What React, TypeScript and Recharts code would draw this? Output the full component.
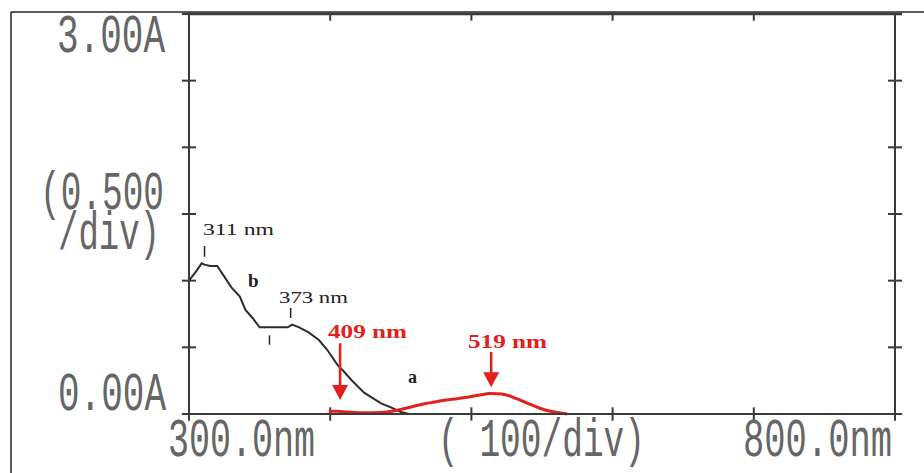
import React from "react"
import { LineChart, Line, XAxis, YAxis, ReferenceLine } from "recharts"

// spectrum b (black) and a (red), wavelength in nm, absorbance in A
const bWave = [300, 305, 309, 311, 315, 320, 325, 330, 336, 340, 345, 350, 355, 360, 365, 370, 373, 378, 385, 392, 398, 405, 410, 415, 424, 436, 443, 450, 456, 480]
const bAbs = [1.0, 1.07, 1.13, 1.12, 1.11, 1.11, 1.03, 0.95, 0.88, 0.78, 0.72, 0.65, 0.65, 0.65, 0.65, 0.65, 0.67, 0.65, 0.61, 0.555, 0.48, 0.37, 0.315, 0.255, 0.16, 0.08, 0.05, 0.015, 0, 0]
const aWave = [399, 405, 412, 420, 430, 440, 446, 452, 458, 466, 474, 482, 490, 498, 506, 513, 518, 524, 532, 540, 548, 556, 563, 568]
const aAbs = [0.02, 0.02, 0.015, 0.01, 0.01, 0.015, 0.025, 0.04, 0.055, 0.075, 0.09, 0.105, 0.115, 0.128, 0.142, 0.153, 0.152, 0.145, 0.115, 0.08, 0.045, 0.02, 0.008, 0]

const xTicks = [300, 400, 500, 600, 700, 800]
const yTicks = [0, 0.5, 1, 1.5, 2, 2.5, 3]

const seriesB = bWave.map((w, i) => ({ nm: w, abs: bAbs[i] }))
const seriesA = aWave.map((w, i) => ({ nm: w, abs: aAbs[i] }))

const AXIS = "#3a3a3a"
const RED = "#e3201b"
const INK = "#222"
const MONO = "'Liberation Mono', monospace"

// half length of the cross ticks, in data units (about 7px)
const TX = 5
const TY = 0.05

const Arrow = (p: any) => {
  const { x1, y1, x2, y2 } = p
  return (
    <g>
      <line x1={x1} y1={y1} x2={x2} y2={y2 - 10} stroke={RED} strokeWidth={2.5} />
      <polygon points={`${x2 - 8},${y2 - 15} ${x2 + 8},${y2 - 15} ${x2},${y2}`} fill={RED} />
    </g>
  )
}

const Mono = ({ x, y, w, t }: any) => (
  <g transform={`translate(${x},${y}) scale(1,1.6)`}>
    <text x={0} y={0} textLength={w} lengthAdjust="spacingAndGlyphs" fontFamily={MONO} fontSize={33} fill="#666">{t}</text>
  </g>
)

const Serif = ({ x, y, w, t, fill = INK, bold = false, size = 17 }: any) => (
  <text x={x} y={y} textLength={w} lengthAdjust={w ? "spacingAndGlyphs" : undefined} fontFamily="'Liberation Serif', serif" fontSize={size} fontWeight={bold ? 700 : 400} fill={fill}>{t}</text>
)

export default function App() {
  return (
    <div style={{ position: "absolute", left: 0, top: 0, width: 924, height: 473, background: "#fff" }}>
      <LineChart width={924} height={473} margin={{ top: 13, right: 28, bottom: 58, left: 188 }}>
        <XAxis type="number" dataKey="nm" domain={[300, 800]} ticks={xTicks} height={1} tick={false} tickLine={false}
          axisLine={{ stroke: AXIS, strokeWidth: 2 }} />
        <XAxis xAxisId="top" orientation="top" type="number" domain={[300, 800]} ticks={xTicks} height={1} tick={false} tickLine={false}
          axisLine={{ stroke: AXIS, strokeWidth: 2.5 }} />
        <YAxis type="number" domain={[0, 3]} ticks={yTicks} width={1} tick={false} tickLine={false}
          axisLine={{ stroke: AXIS, strokeWidth: 2 }} />
        <YAxis yAxisId="right" orientation="right" type="number" domain={[0, 3]} ticks={yTicks} width={1} tick={false} tickLine={false}
          axisLine={{ stroke: AXIS, strokeWidth: 2 }} />

        {yTicks.map(t => (
          <ReferenceLine key={"l" + t} ifOverflow="visible" segment={[{ x: 300 - TX, y: t }, { x: 300 + TX, y: t }]} stroke={AXIS} strokeWidth={2} />
        ))}
        {yTicks.map(t => (
          <ReferenceLine key={"r" + t} ifOverflow="visible" segment={[{ x: 800 - TX, y: t }, { x: 800 + TX, y: t }]} stroke={AXIS} strokeWidth={2} />
        ))}
        {xTicks.map(t => (
          <ReferenceLine key={"b" + t} ifOverflow="visible" segment={[{ x: t, y: -TY }, { x: t, y: TY }]} stroke={AXIS} strokeWidth={2} />
        ))}
        {xTicks.map(t => (
          <ReferenceLine key={"t" + t} ifOverflow="visible" segment={[{ x: t, y: 3 }, { x: t, y: 3 - TY }]} stroke={AXIS} strokeWidth={2} />
        ))}

        <Line data={seriesB} dataKey="abs" type="linear" stroke="#2e2e2e" strokeWidth={2} dot={false} isAnimationActive={false} />
        <Line data={seriesA} dataKey="abs" type="monotone" stroke={RED} strokeWidth={3} dot={false} isAnimationActive={false} />

        <ReferenceLine segment={[{ x: 311, y: 1.26 }, { x: 311, y: 1.18 }]} stroke={INK} strokeWidth={1.5} />
        <ReferenceLine segment={[{ x: 372, y: 0.795 }, { x: 372, y: 0.72 }]} stroke={INK} strokeWidth={1.5} />
        <ReferenceLine segment={[{ x: 357, y: 0.59 }, { x: 357, y: 0.52 }]} stroke={INK} strokeWidth={1.5} />
        <ReferenceLine segment={[{ x: 407, y: 0.53 }, { x: 407, y: 0.105 }]} shape={Arrow} />
        <ReferenceLine segment={[{ x: 514, y: 0.465 }, { x: 514, y: 0.2 }]} shape={Arrow} />
      </LineChart>

      <svg width={924} height={473} style={{ position: "absolute", left: 0, top: 0, pointerEvents: "none" }}>
        <line x1={11} y1={12} x2={11} y2={473} stroke={INK} strokeWidth={1.5} />
        <line x1={11} y1={12} x2={924} y2={12} stroke={INK} strokeWidth={1.5} />
        <line x1={895} y1={14} x2={902} y2={14} stroke={AXIS} strokeWidth={2.5} />
        <line x1={895} y1={414} x2={902} y2={414} stroke={AXIS} strokeWidth={2} />

        <Mono x={57} y={52} w={108} t="3.00A" />
        <g transform="translate(40,209) scale(1,1.6)">
          <text x={0} y={0} fontFamily={MONO} fontSize={33} fill="#666">
            <tspan x={0} y={0} textLength={124} lengthAdjust="spacingAndGlyphs">(0.500</tspan>
            <tspan x={18} y={25} textLength={102} lengthAdjust="spacingAndGlyphs">/div)</tspan>
          </text>
        </g>
        <Mono x={58} y={410} w={108} t="0.00A" />
        <Mono x={168} y={456} w={147} t="300.0nm" />
        <Mono x={438} y={456} w={207} t="( 100/div)" />
        <Mono x={743} y={456} w={149} t="800.0nm" />

        <Serif x={203} y={235} w={71} t="311 nm" />
        <Serif x={279} y={303} w={69} t="373 nm" />
        <Serif x={248} y={287} t="b" bold size={19} />
        <Serif x={408} y={383} t="a" bold size={18} />
        <Serif x={328} y={338} w={79} t="409 nm" fill={RED} bold size={19} />
        <Serif x={468} y={348} w={79} t="519 nm" fill={RED} bold size={19} />
      </svg>
    </div>
  )
}
